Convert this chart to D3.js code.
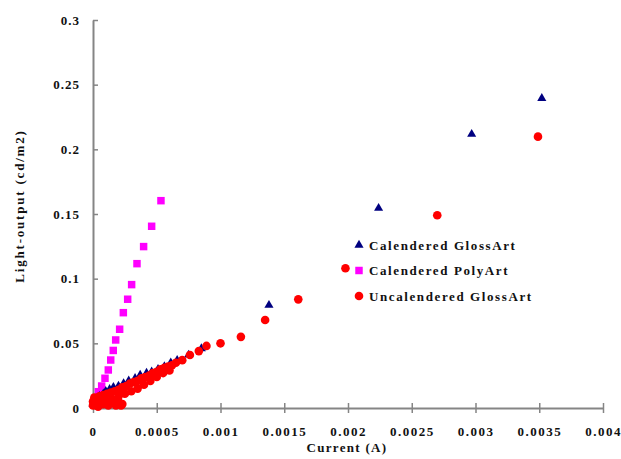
<!DOCTYPE html>
<html>
<head>
<meta charset="utf-8">
<script src="https://cdn.jsdelivr.net/npm/d3@7"></script>
<style>
  body { margin: 0; background: #fff; }
  text { font-family: "Liberation Serif", "Times New Roman", serif; font-weight: bold; fill: #111; }
</style>
</head>
<body>
<script>
// Calendered GlossArt (triangles)
const glossX = [0, 0.00001, 0.00003, 0.00005, 0.00008, 0.0001, 0.00013, 0.00016, 0.0002, 0.00024,
  0.00028, 0.00033, 0.00037, 0.00042, 0.00046, 0.00051, 0.00056, 0.00061, 0.00066, 0.00075,
  0.00085, 0.00138, 0.00224, 0.00297, 0.00352];
const glossY = [0.003, 0.005, 0.007, 0.009, 0.011, 0.013, 0.0145, 0.016, 0.017, 0.019,
  0.021, 0.023, 0.0255, 0.027, 0.028, 0.03, 0.032, 0.035, 0.037, 0.041,
  0.046, 0.0795, 0.1545, 0.2117, 0.2395];

// Calendered PolyArt (squares)
const polyX = [0, 0.000016, 0.000042, 0.000068, 0.000094, 0.00012, 0.000139, 0.000159, 0.000178,
  0.000209, 0.000238, 0.000272, 0.000303, 0.000345, 0.000397, 0.00046, 0.000533];
const polyY = [0.0036, 0.0075, 0.0126, 0.017, 0.023, 0.0294, 0.0371, 0.0445, 0.0526,
  0.0609, 0.0737, 0.0841, 0.0954, 0.1116, 0.1248, 0.1405, 0.1603];

// Uncalendered GlossArt (circles)
const uncalX = [0, 0, 0.00001, 0.00002, 0.00003, 0.00004, 0.00005, 0.00006, 0.00008, 0.0001,
  0.00012, 0.00015, 0.00018, 0.0002, 0.00022, 0.00023,
  0.00005, 0.00008, 0.00011, 0.00014, 0.00017, 0.0002, 0.00023, 0.00026, 0.00029, 0.00032,
  0.00035, 0.00038, 0.00041, 0.00044, 0.00047, 0.0005, 0.00053, 0.00056, 0.00059, 0.00062,
  0.00065, 0.0007, 0.00015, 0.0002, 0.00025, 0.0003, 0.00035, 0.0004, 0.00045, 0.0005,
  0.00055, 0.0006, 0.00076, 0.00083, 0.00089, 0.001, 0.00116, 0.00135, 0.00161, 0.00198,
  0.0027, 0.00349];
const uncalY = [0.002, 0.005, 0.008, 0.003, 0.006, 0.001, 0.004, 0.007, 0.003, 0.006,
  0.002, 0.004, 0.002, 0.005, 0.002, 0.003,
  0.009, 0.01, 0.011, 0.012, 0.013, 0.014, 0.016, 0.017, 0.019, 0.02,
  0.021, 0.023, 0.024, 0.025, 0.027, 0.028, 0.03, 0.031, 0.032, 0.033,
  0.035, 0.037, 0.007, 0.009, 0.011, 0.013, 0.015, 0.018, 0.021, 0.024,
  0.027, 0.029, 0.041, 0.044, 0.048, 0.05, 0.055, 0.068, 0.084, 0.108,
  0.149, 0.2098];

const xTicks = [0, 0.0005, 0.001, 0.0015, 0.002, 0.0025, 0.003, 0.0035, 0.004];
const yTicks = [0, 0.05, 0.1, 0.15, 0.2, 0.25, 0.3];
const seriesNames = ["Calendered GlossArt", "Calendered PolyArt", "Uncalendered GlossArt"];

const W = 621, H = 459;
const svg = d3.select("body").append("svg").attr("width", W).attr("height", H);

const x = d3.scaleLinear().domain([0, 0.004]).range([93, 603]);
const y = d3.scaleLinear().domain([0, 0.3]).range([408, 20]);

const axisColor = "#858585";

// x axis
const gx = svg.append("g").attr("transform", `translate(0,${y(0)})`)
  .call(d3.axisBottom(x).tickValues(xTicks).tickFormat(d => d === 0 ? "0" : String(+d.toFixed(4)))
    .tickSize(5).tickSizeOuter(0));
gx.select(".domain").attr("stroke", axisColor).attr("stroke-width", 2);
gx.selectAll(".tick line").attr("stroke", axisColor).attr("stroke-width", 1.5).attr("y1", -5);
gx.selectAll(".tick text").attr("y", 19).attr("font-size", 13).style("letter-spacing", "1.5px")
  .attr("font-family", null);

// y axis
const gy = svg.append("g").attr("transform", `translate(${x(0)},0)`)
  .call(d3.axisLeft(y).tickValues(yTicks).tickFormat(d => String(d)).tickSize(5).tickSizeOuter(0));
gy.select(".domain").attr("stroke", axisColor).attr("stroke-width", 2);
gy.selectAll(".tick line").attr("stroke", axisColor).attr("stroke-width", 1.5).attr("x2", 5);
gy.selectAll(".tick text").attr("x", -13).attr("font-size", 13).style("letter-spacing", "1px")
  .attr("font-family", null);

// axis titles
svg.append("text").attr("x", 347).attr("y", 452).attr("text-anchor", "middle")
  .attr("font-size", 13).style("letter-spacing", "1.3px").text("Current (A)");
svg.append("text").attr("transform", "translate(24,206) rotate(-90)").attr("text-anchor", "middle")
  .attr("font-size", 13).style("letter-spacing", "1.8px").text("Light-output (cd/m2)");

const tri = d3.symbol().type(d3.symbolTriangle).size(36);
const sq = d3.symbol().type(d3.symbolSquare).size(56);

// markers
svg.append("g").selectAll("path").data(d3.zip(polyX, polyY)).join("path")
  .attr("d", sq).attr("transform", d => `translate(${x(d[0])},${y(d[1])})`).attr("fill", "#ff00ff");

svg.append("g").selectAll("path").data(d3.zip(glossX, glossY)).join("path")
  .attr("d", tri).attr("transform", d => `translate(${x(d[0])},${y(d[1])})`).attr("fill", "#000080");

svg.append("g").selectAll("circle").data(d3.zip(uncalX, uncalY)).join("circle")
  .attr("cx", d => x(d[0])).attr("cy", d => y(d[1])).attr("r", 4.3).attr("fill", "#ff0000");

// legend
const legend = svg.append("g").attr("transform", "translate(359,245)");
const rows = legend.selectAll("g").data(seriesNames).join("g")
  .attr("transform", (d, i) => `translate(0,${i * 25.5})`);
rows.each(function(d, i) {
  const g = d3.select(this);
  if (i === 0) g.append("path").attr("d", tri).attr("fill", "#000080");
  if (i === 1) g.append("path").attr("d", sq).attr("fill", "#ff00ff");
  if (i === 2) g.append("circle").attr("r", 4.3).attr("fill", "#ff0000");
});
rows.append("text").attr("x", 10).attr("dy", "0.35em").attr("font-size", 13)
  .style("letter-spacing", "1.6px").text(d => d);
</script>
</body>
</html>
